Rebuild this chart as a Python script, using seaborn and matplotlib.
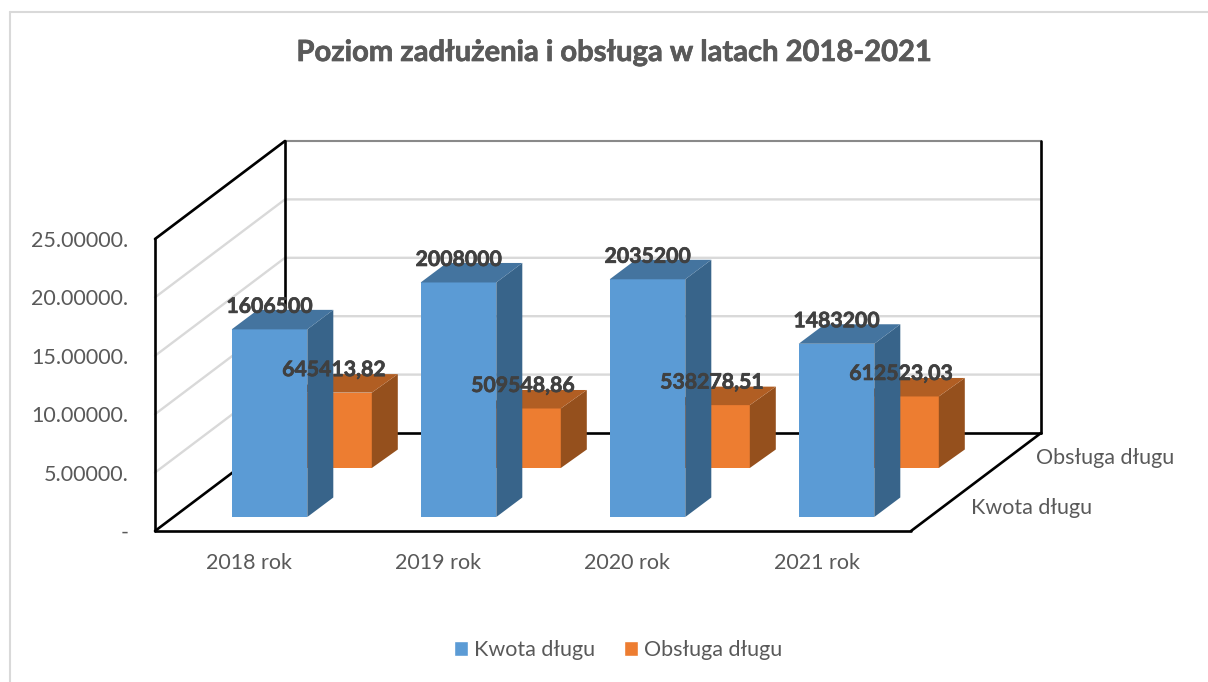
import matplotlib
matplotlib.use("Agg")
import matplotlib.pyplot as plt
from matplotlib.lines import Line2D
from matplotlib.patches import Patch, Polygon
from matplotlib.patheffects import withStroke
from matplotlib.transforms import offset_copy
import pandas as pd
import seaborn as sns

# ---- data -------------------------------------------------------------
years = ["2018 rok", "2019 rok", "2020 rok", "2021 rok"]
kwota = [1606500, 2008000, 2035200, 1483200]
obsluga = [645413.82, 509548.86, 538278.51, 612523.03]
kwota_labels = ["1606500", "2008000", "2035200", "1483200"]
obsluga_labels = ["645413,82", "509548,86", "538278,51", "612523,03"]
y_ticks = [0, 500000, 1000000, 1500000, 2000000, 2500000]
y_labels = ["-", "5.00000.", "10.00000.", "15.00000.", "20.00000.", "25.00000."]
title = "Poziom zadłużenia i obsługa w latach 2018-2021"
series_names = ["Kwota długu", "Obsługa długu"]

# ---- style ------------------------------------------------------------
sns.set_theme(style="white")
plt.rcParams["font.family"] = ["Lato", "DejaVu Sans"]
W, H = 1208, 682
TXT = "#595959"
FS = 15.5
BLUE, BLUE_SIDE, BLUE_TOP = "#5B9BD5", "#38648A", "#44749F"
ORANGE, ORANGE_SIDE, ORANGE_TOP = "#ED7D31", "#95501D", "#B15E23"

fig = plt.figure(figsize=(W / 100, H / 100), dpi=100, facecolor="white")


def make_axes(left, right, floor_y, top_y, z):
    ax = fig.add_axes([left / W, 1 - floor_y / H, (right - left) / W, (floor_y - top_y) / H],
                      facecolor="none", zorder=z)
    ax.set_xlim(-0.5, 3.5)
    ax.set_ylim(0, 2500000)
    for s in ax.spines.values():
        s.set_visible(False)
    return ax


# plot-box geometry in pixels
L, R, FLOOR, TOP = 155, 911, 531, 239
DEPTH_X, DEPTH_Y = 130, 98

ax = make_axes(L, R, FLOOR, TOP, 1)
ax_orange = make_axes(L + 84.5, R + 84.5, FLOOR - 63, TOP - 63, 2)
ax_blue = make_axes(L + 20, R + 20, FLOOR - 14, TOP - 14, 3)

px_x = 4 / (R - L)             # categories per pixel
px_y = 2500000 / (FLOOR - TOP)  # value units per pixel
dx, dy = DEPTH_X * px_x, DEPTH_Y * px_y
x0, x1 = -0.5, 3.5

# walls, gridlines
for v in y_ticks[1:]:
    ax.plot([x0, x0 + dx, x1 + dx], [v, v + dy, v + dy], color="#D9D9D9", lw=1.7,
            clip_on=False, zorder=1, solid_joinstyle="miter")
ymax = y_ticks[-1]
ax.plot([x0 + dx, x1 + dx], [ymax + dy, ymax + dy], color="#7A7A7A", lw=1.2, clip_on=False, zorder=2)
black = dict(color="black", lw=1.9, clip_on=False, zorder=2, solid_joinstyle="miter")
ax.plot([x0, x0], [0, ymax], **black)
ax.plot([x0, x1], [0, 0], **black)
ax.plot([x0, x0 + dx], [ymax, ymax + dy], **black)
ax.plot([x0, x0 + dx], [0, dy], **black)
ax.plot([x1, x1 + dx], [0, dy], **black)
ax.plot([x0 + dx, x1 + dx], [dy, dy], **black)
ax.plot([x0 + dx, x0 + dx], [dy, ymax + dy], **black)
ax.plot([x1 + dx, x1 + dx], [dy, ymax + dy], **black)

# axis labels
ax.set_xticks(range(4))
ax.set_xticklabels(years, fontsize=FS, color=TXT)
ax.set_yticks(y_ticks)
ax.set_yticklabels(y_labels, fontsize=FS, color=TXT)
ax.tick_params(axis="both", length=0)
ax.tick_params(axis="x", pad=16)
ax.tick_params(axis="y", pad=19)

bold_fx = [withStroke(linewidth=0.5, foreground="#404040")]


def bars(target, values, labels, front, side, top, bar_dx_px, bar_dy_px):
    frame = pd.DataFrame({"rok": years, "wartosc": values})
    sns.barplot(data=frame, x="rok", y="wartosc", color=front, saturation=1, width=0.4,
                ax=target, linewidth=0, order=years)
    target.set_xlim(x0, x1)
    target.set_ylim(0, ymax)
    target.axis("off")
    ddx, ddy = bar_dx_px * px_x, bar_dy_px * px_y
    for rect, text in zip(target.patches, labels):
        a, b, v = rect.get_x(), rect.get_x() + rect.get_width(), rect.get_height()
        target.add_patch(Polygon([(b, 0), (b + ddx, ddy), (b + ddx, v + ddy), (b, v)],
                                 facecolor=side, edgecolor="none", clip_on=False))
        target.add_patch(Polygon([(a, v), (a + ddx, v + ddy), (b + ddx, v + ddy), (b, v)],
                                 facecolor=top, edgecolor="none", clip_on=False))
        tr = offset_copy(target.transData, fig=fig, x=0, y=22.5 * 0.72, units="points")
        fig.text((a + b) / 2, v, text, transform=tr, ha="center", va="center",
                 fontsize=15.3, fontweight="bold", color="#404040", zorder=10,
                 path_effects=bold_fx)


bars(ax_orange, obsluga, obsluga_labels, ORANGE, ORANGE_SIDE, ORANGE_TOP, 26, 18.5)
bars(ax_blue, kwota, kwota_labels, BLUE, BLUE_SIDE, BLUE_TOP, 26, 19.5)

# depth-axis labels
fig.text(1036 / W, 1 - 458 / H, series_names[1], fontsize=FS, color=TXT, ha="left", va="center")
fig.text(971 / W, 1 - 508 / H, series_names[0], fontsize=FS, color=TXT, ha="left", va="center")

# title
fig.text(614 / W, 1 - 53 / H, title, fontsize=21, fontweight="bold", color=TXT, ha="center", va="center",
         path_effects=[withStroke(linewidth=0.5, foreground=TXT)])

# legend
handles = [Patch(facecolor=BLUE, label=series_names[0]), Patch(facecolor=ORANGE, label=series_names[1])]
fig.legend(handles=handles, loc="center", bbox_to_anchor=(618 / W, 1 - 650 / H), ncol=2, frameon=False,
           fontsize=FS, labelcolor=TXT, handlelength=0.65, handleheight=0.65, handletextpad=0.28,
           columnspacing=1.35)

# chart frame
frame_c = "#D9D9D9"
fig.add_artist(Line2D([9.5 / W, 9.5 / W], [0, 1 - 12 / H], color=frame_c, lw=1.5))
fig.add_artist(Line2D([9.5 / W, 1], [1 - 12 / H, 1 - 12 / H], color=frame_c, lw=1.5))

fig.savefig("out.png", dpi=100)
